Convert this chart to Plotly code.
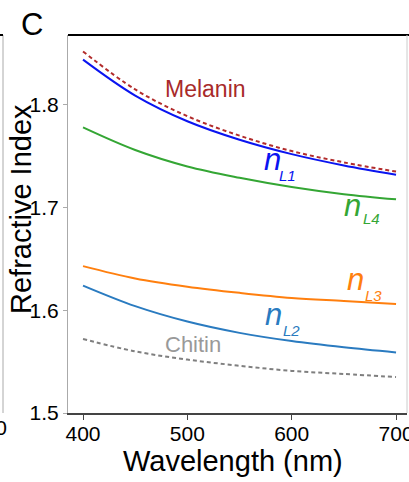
import plotly.graph_objects as go

wavelength = [400, 450, 500, 550, 600, 650, 700]
melanin = [1.852, 1.815, 1.789, 1.770, 1.755, 1.744, 1.735]
n_L1 = [1.844, 1.809, 1.784, 1.766, 1.752, 1.741, 1.732]
n_L4 = [1.778, 1.756, 1.740, 1.729, 1.720, 1.713, 1.708]
n_L3 = [1.643, 1.631, 1.623, 1.617, 1.612, 1.609, 1.606]
n_L2 = [1.624, 1.604, 1.589, 1.578, 1.570, 1.564, 1.559]
chitin = [1.572, 1.560, 1.552, 1.546, 1.541, 1.538, 1.535]

x_ticks = [400, 500, 600, 700]
y_ticks = [1.5, 1.6, 1.7, 1.8]

FONT = "Liberation Sans, Arial, sans-serif"
W, H = 409, 482
ML, MR, MT, MB = 68, 2, 35, 69
pw, ph = W - ML - MR, H - MT - MB

def px_x(px):
    return (px - ML) / pw

def px_y(py):
    return (H - MB - py) / ph

series = [
    ("Melanin", melanin, "#b22c2c", "4px,3px"),
    ("n_L1", n_L1, "#0a14f0", "solid"),
    ("n_L4", n_L4, "#34a634", "solid"),
    ("n_L3", n_L3, "#ff7f0e", "solid"),
    ("n_L2", n_L2, "#2a7bc0", "solid"),
    ("Chitin", chitin, "#7f7f7f", "4px,3px"),
]

fig = go.Figure()
for name, vals, color, dash in series:
    fig.add_trace(go.Scatter(
        x=wavelength, y=vals, mode="lines", name=name,
        line=dict(color=color, width=2, dash=dash, shape="spline"),
        showlegend=False, hoverinfo="skip"))

ann = []
def label(x, y, text, color, size, italic=False):
    t = f"<i>{text}</i>" if italic else text
    ann.append(dict(x=x, y=y, xref="x", yref="y", text=t, showarrow=False,
                    font=dict(family=FONT, size=size, color=color),
                    xanchor="center", yanchor="middle"))

label(517, 1.8153, "Melanin", "#a82a2a", 23)
label(505.5, 1.567, "Chitin", "#999999", 22)
label(581.7, 1.7465, "n", "#0a14f0", 31, True)
label(596, 1.7315, "L1", "#0a14f0", 15, True)
label(658, 1.7025, "n", "#34a634", 31, True)
label(676.8, 1.689, "L4", "#34a634", 15, True)
label(660.8, 1.6297, "n", "#ff7f0e", 31, True)
label(678, 1.6145, "L3", "#ff7f0e", 15, True)
label(583, 1.5955, "n", "#2a7bc0", 31, True)
label(599.4, 1.58, "L2", "#2a7bc0", 15, True)

def paper_text(x, y, text, size, angle=0, xanchor="center", yanchor="middle"):
    ann.append(dict(x=px_x(x), y=px_y(y), xref="paper", yref="paper", text=text,
                    showarrow=False, textangle=angle, xanchor=xanchor, yanchor=yanchor,
                    font=dict(family=FONT, size=size, color="black")))

paper_text(32, 24, "C", 31)
paper_text(233, 461, "Wavelength (nm)", 29)
paper_text(21, 209, "Refractive Index", 29, angle=-90)
paper_text(9, 427, "700", 21, xanchor="right")

fig.update_layout(
    width=W, height=H,
    margin=dict(l=ML, r=MR, t=MT, b=MB, autoexpand=False),
    paper_bgcolor="white", plot_bgcolor="white",
    font=dict(family=FONT, color="black"),
    xaxis=dict(range=[385.6, 710.5], tickvals=x_ticks, ticktext=[str(v) for v in x_ticks],
               showgrid=False, zeroline=False, showline=True, linecolor="#444444", linewidth=2,
               ticks="outside", ticklen=5, tickcolor="#444444", tickwidth=1,
               ticklabeloverflow="allow", automargin=False, ticklabelstandoff=-4,
               tickfont=dict(size=21, family=FONT, color="black")),
    yaxis=dict(range=[1.5, 1.868], tickvals=y_ticks, ticktext=["1.5", "1.6", "1.7", "1.8"],
               showgrid=False, zeroline=False, showline=True, linecolor="#aaaaaa", linewidth=1,
               ticks="outside", ticklen=4, tickcolor="#aaaaaa", automargin=False,
               tickfont=dict(size=21, family=FONT, color="black")),
    showlegend=False,
    annotations=ann,
)

fig.add_shape(type="line", xref="paper", yref="paper", x0=0, x1=1.02, y0=1, y1=1,
              line=dict(color="black", width=2))
fig.add_shape(type="line", xref="paper", yref="paper", x0=1, x1=1, y0=0, y1=1,
              line=dict(color="#cccccc", width=1))
fig.add_shape(type="line", xref="paper", yref="paper", x0=px_x(3), x1=px_x(3),
              y0=0, y1=1, line=dict(color="#aaaaaa", width=1))
fig.add_shape(type="line", xref="paper", yref="paper", x0=px_x(-2), x1=px_x(3),
              y0=1, y1=1, line=dict(color="black", width=2))

fig.write_html("out.html", config={"displayModeBar": False},
               post_script="document.body.style.margin='0';document.body.style.overflow='hidden';")
